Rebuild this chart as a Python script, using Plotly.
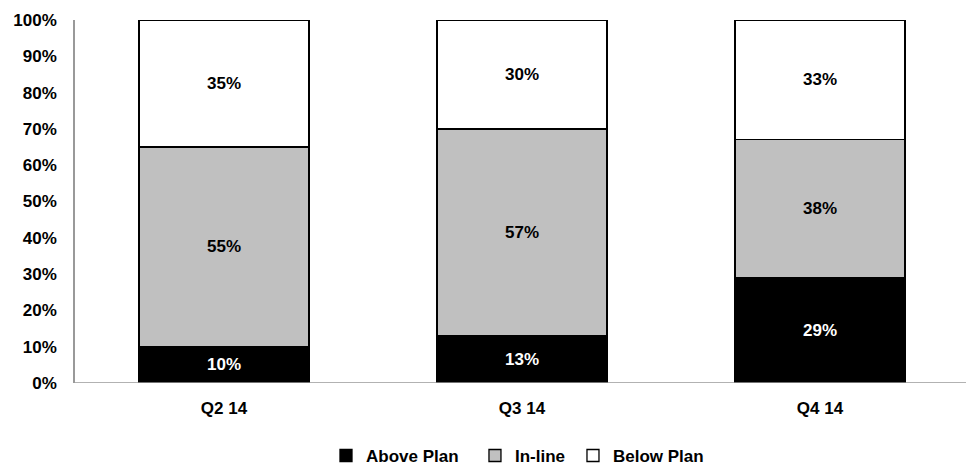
import plotly.graph_objects as go

quarters = ["Q2 14", "Q3 14", "Q4 14"]
above_plan = [10, 13, 29]
in_line = [55, 57, 38]
below_plan = [35, 30, 33]
y_ticks = [0, 10, 20, 30, 40, 50, 60, 70, 80, 90, 100]

FONT = "Liberation Sans, Arial, sans-serif"
SIZE = 17

# name, values, fill, label colour, legend id, legend x (paper)
series = [
    ("Above Plan", above_plan, "#000000", "#ffffff", "legend", 0.2817),
    ("In-line", in_line, "#c0c0c0", "#000000", "legend2", 0.4489),
    ("Below Plan", below_plan, "#ffffff", "#000000", "legend3", 0.5589),
]

fig = go.Figure()
legends = {}
for name, vals, fill, txt, leg, lx in series:
    fig.add_trace(go.Bar(
        name=name,
        x=quarters,
        y=vals,
        width=0.57,
        legend=leg,
        marker=dict(color=fill, line=dict(color="#000000", width=1.3)),
        text=[f"{v}%" for v in vals],
        textposition="inside",
        insidetextanchor="middle",
        textangle=0,
        textfont=dict(family=FONT, size=SIZE, color=txt, weight="bold"),
        cliponaxis=False,
    ))
    legends[leg] = dict(
        orientation="h",
        x=lx, xanchor="left",
        y=-0.201, yanchor="middle",
        font=dict(family=FONT, size=SIZE, color="#000000", weight="bold"),
        itemwidth=30,
        bgcolor="rgba(0,0,0,0)",
    )

fig.update_layout(
    barmode="stack",
    width=966,
    height=466,
    margin=dict(l=75, r=0, t=20, b=83, autoexpand=False),
    paper_bgcolor="#ffffff",
    plot_bgcolor="#ffffff",
    font=dict(family=FONT, size=SIZE, color="#000000", weight="bold"),
    uniformtext=dict(mode=False),
    showlegend=True,
    xaxis=dict(
        range=[-0.5, 2.49],
        showgrid=False,
        showline=False,
        ticks="",
        ticklabelstandoff=13,
        tickfont=dict(family=FONT, size=SIZE, color="#000000", weight="bold"),
    ),
    yaxis=dict(
        range=[0, 100],
        tickvals=y_ticks,
        ticktext=[f"{t}%" for t in y_ticks],
        showgrid=False,
        showline=True,
        linecolor="#999999",
        linewidth=1.5,
        zeroline=False,
        ticks="",
        ticklen=0,
        ticklabelstandoff=13,
        tickfont=dict(family=FONT, size=SIZE, color="#000000", weight="bold"),
    ),
    **legends,
)

# baseline under the bars
fig.add_shape(type="line", xref="paper", yref="y", x0=0, x1=1, y0=0, y1=0,
              line=dict(color="#999999", width=1.5), layer="above")

fig.write_html("out.html")
